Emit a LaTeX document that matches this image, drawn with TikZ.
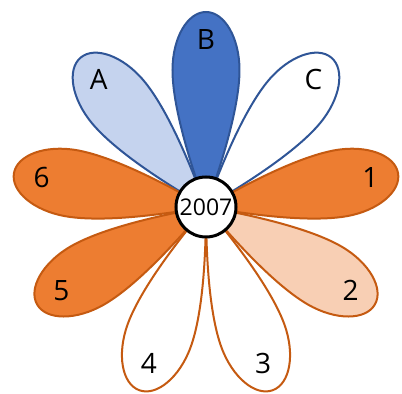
\documentclass[tikz,border=0pt]{standalone}
\usepackage{fontspec}
\setmainfont{Open Sans}
\usepackage{tikz}

\definecolor{orangefill}{HTML}{ED7D31}
\definecolor{orangeedge}{HTML}{C55A11}
\definecolor{orangelight}{HTML}{F8CFB4}
\definecolor{bluefill}{HTML}{4472C4}
\definecolor{blueedge}{HTML}{2F5597}
\definecolor{bluelight}{HTML}{C5D3EE}

\begin{document}
\begin{tikzpicture}[x=0.5pt, y=0.5pt, line width=1pt]
        \useasboundingbox (-206,-187) rectangle (196,207);

        % petals: angle / fill / edge / label
        \foreach \a/\f/\e/\t [count=\i] in {90/bluefill/blueedge/B, 130/bluelight/blueedge/A, 50/white/blueedge/C,
                                170/orangefill/orangeedge/6, 10/orangefill/orangeedge/1, 210/orangefill/orangeedge/5,
                                330/orangelight/orangeedge/2, 250/white/orangeedge/4, 290/white/orangeedge/3}
        {
          \begin{scope}[rotate=\a-90]
            \draw[draw=\e, fill=\f] (0,0) .. controls (-20,55) and (-33.5,105) .. (-33.5,137)
                  arc[start angle=180, end angle=0, x radius=33.5, y radius=58]
                  .. controls (33.5,105) and (20,55) .. (0,0);
          \end{scope}
          \node[font=\fontsize{14}{16}\selectfont] (petal\i) at (\a:167) {\t};
        }

        \node[draw, circle, fill=white, line width=1.5pt, minimum size=30pt, inner sep=0pt,
              font=\fontsize{11.5}{14}\selectfont] (year) at (0,0) {2007};
      \end{tikzpicture}
\end{document}
